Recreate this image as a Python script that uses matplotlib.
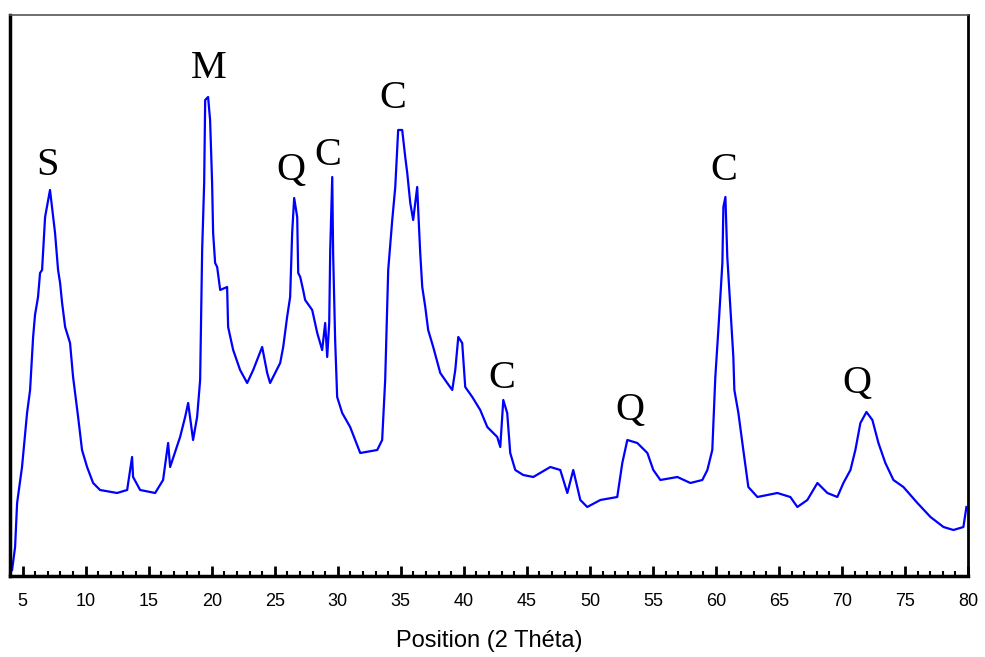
import matplotlib.pyplot as plt
from matplotlib.ticker import MultipleLocator

# diffractogram (2 theta, intensity in arbitrary units)
two_theta = [4.16, 4.40, 4.56, 4.95, 5.35, 5.59, 5.83, 5.98, 6.22, 6.38, 6.54, 6.78,
             7.17, 7.57, 7.81, 7.97, 8.13, 8.37, 8.76, 9.00, 9.40, 9.71, 10.11, 10.59,
             11.14, 12.49, 13.29, 13.68, 13.76, 14.32, 15.51, 16.14, 16.54, 16.70, 17.49,
             17.89, 18.13, 18.52, 18.84, 19.08, 19.16, 19.24, 19.40, 19.48, 19.71, 19.87,
             20.03, 20.11, 20.27, 20.43, 20.67, 21.22, 21.30, 21.70, 22.25, 22.81, 23.29,
             24.00, 24.40, 24.63, 25.43, 25.67, 25.98, 26.22, 26.38, 26.54, 26.78, 26.86,
             27.02, 27.25, 27.41, 27.97, 28.37, 28.76, 29.00, 29.16, 29.32, 29.40, 29.56,
             29.63, 29.79, 29.95, 30.35, 30.98, 31.38, 31.78, 33.13, 33.52, 33.76, 34.00,
             34.32, 34.56, 34.79, 35.11, 35.35, 35.51, 35.75, 35.98, 36.30, 36.38, 36.54,
             36.70, 36.94, 37.17, 37.57, 38.13, 38.68, 39.08, 39.32, 39.56, 39.87, 40.11,
             40.67, 41.30, 41.86, 42.65, 42.89, 43.13, 43.44, 43.68, 44.08, 44.71, 45.51,
             46.86, 47.65, 48.21, 48.68, 49.24, 49.79, 50.83, 52.17, 52.57, 52.97, 53.76,
             54.56, 55.03, 55.59, 56.94, 57.97, 58.92, 59.32, 59.71, 59.95, 60.19, 60.51,
             60.59, 60.75, 60.90, 61.14, 61.38, 61.46, 61.78, 62.17, 62.57, 63.29, 64.87,
             65.90, 66.46, 67.25, 68.05, 68.84, 69.63, 70.11, 70.67, 71.06, 71.46, 71.94,
             72.41, 72.89, 73.44, 74.08, 74.87, 75.98, 77.02, 78.05, 78.84, 79.63, 79.87]
intensity = [6, 29, 73, 109, 163, 186, 239, 261, 279, 303, 306, 359,
             386, 343, 306, 293, 273, 249, 233, 199, 159, 126, 109, 93,
             86, 83, 86, 119, 99, 86, 83, 96, 133, 109, 139,
             159, 173, 136, 159, 196, 263, 326, 393, 476, 479, 456,
             393, 343, 313, 309, 286, 289, 249, 226, 206, 193, 206,
             229, 203, 193, 213, 229, 259, 279, 343, 378, 359, 303,
             299, 286, 276, 266, 243, 226, 253, 219, 253, 326, 399,
             323, 236, 179, 163, 149, 136, 123, 126, 136, 196, 306,
             356, 389, 446, 446, 419, 403, 373, 356, 389, 366, 323,
             289, 269, 246, 229, 203, 193, 186, 206, 239, 233, 189,
             179, 166, 149, 139, 129, 176, 163, 123, 106, 101, 99,
             109, 106, 83, 106, 76, 69, 76, 79, 113, 136, 133,
             123, 106, 96, 99, 93, 96, 106, 126, 199, 246, 313,
             369, 379, 319, 269, 219, 186, 163, 126, 89, 79, 83,
             79, 69, 76, 93, 83, 79, 93, 106, 126, 153, 164,
             156, 133, 113, 96, 89, 73, 59, 49, 46, 49, 69]

# phase labels above the peaks
peak_labels = ["S", "M", "Q", "C", "C", "C", "Q", "C", "Q"]
label_x = [7.0, 19.8, 26.3, 29.2, 34.4, 43.0, 53.2, 60.6, 71.2]
label_y = [401, 498, 396, 411, 468, 188, 156, 396, 183]

fig = plt.figure(figsize=(9.85, 6.57), dpi=100)
ax = fig.add_axes([0.0102, 0.1233, 0.9726, 0.8539])

ax.plot(two_theta, intensity, color="#0000ff", linewidth=1.6)

for lab, lx, ly in zip(peak_labels, label_x, label_y):
    ax.text(lx, ly, lab, ha="center", va="baseline", fontsize=29,
            family="Liberation Serif", color="black")

ax.set_xlim(4, 80)
ax.set_ylim(0, 561)
ax.set_yticks([])
ax.xaxis.set_major_locator(MultipleLocator(5))
ax.xaxis.set_minor_locator(MultipleLocator(1))
ax.set_xticks(range(5, 81, 5))
ax.tick_params(axis="x", which="major", direction="in", length=7, width=2,
               pad=12, labelsize=13)
ax.tick_params(axis="x", which="minor", direction="in", length=3.5, width=1.5)
for lab in ax.get_xticklabels():
    lab.set_family("Liberation Sans")

ax.set_xlabel("Position (2 Théta)", fontsize=17, family="Liberation Sans", labelpad=15)

ax.spines["left"].set_linewidth(2.5)
ax.spines["bottom"].set_linewidth(2.5)
ax.spines["right"].set_linewidth(2)
ax.spines["top"].set_linewidth(1.2)
ax.spines["top"].set_color("#555555")

fig.savefig("out.png", dpi=100)
